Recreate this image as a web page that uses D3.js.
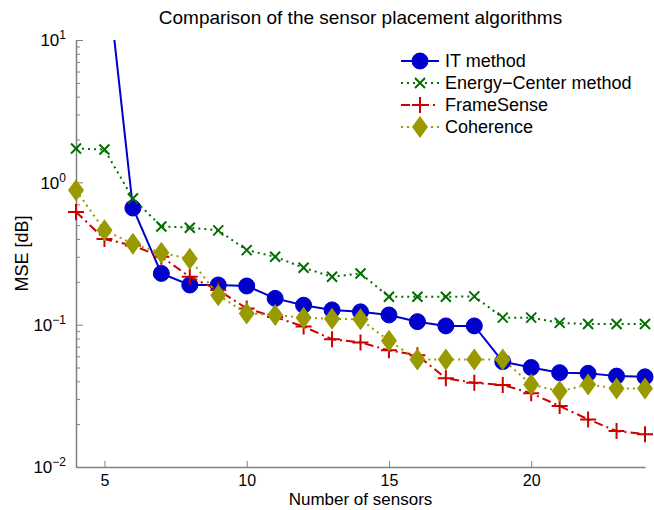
<!DOCTYPE html>
<html>
<head>
<meta charset="utf-8">
<script src="https://cdn.jsdelivr.net/npm/d3@7"></script>
<style>
  body { margin: 0; background: #fff; }
  text { font-family: "Liberation Sans", Arial, sans-serif; }
</style>
</head>
<body>
<div id="chart"></div>
<script>
// sensor counts
const sensors = [4, 5, 6, 7, 8, 9, 10, 11, 12, 13, 14, 15, 16, 17, 18, 19, 20, 21, 22, 23, 24];
// IT method starts at 5 sensors (value above the top of the axis)
const itSensors = sensors.slice(1);
const itMethod = [43, 0.66, 0.229, 0.19, 0.19, 0.187, 0.153, 0.137, 0.127, 0.123, 0.117, 0.105, 0.098, 0.098, 0.055, 0.050, 0.046, 0.0455, 0.0435, 0.043];
const energyCenter = [1.73, 1.70, 0.77, 0.49, 0.48, 0.46, 0.334, 0.30, 0.251, 0.217, 0.229, 0.157, 0.157, 0.157, 0.158, 0.112, 0.112, 0.103, 0.101, 0.101, 0.101];
const frameSense = [0.62, 0.40, 0.36, 0.30, 0.217, 0.175, 0.13, 0.113, 0.097, 0.079, 0.075, 0.066, 0.061, 0.042, 0.039, 0.0377, 0.033, 0.0268, 0.0216, 0.0179, 0.017];
const coherence = [0.88, 0.46, 0.37, 0.32, 0.29, 0.161, 0.12, 0.117, 0.112, 0.11, 0.109, 0.077, 0.057, 0.057, 0.057, 0.057, 0.038, 0.034, 0.038, 0.0356, 0.0356];
const xTicks = [5, 10, 15, 20];
const yTicks = [1e-2, 1e-1, 1e0, 1e1];
const yExponents = ["−2", "−1", "0", "1"];

const W = 654, H = 510;
const margin = { left: 76, top: 40, right: 9, bottom: 43 };
const width = W - margin.left - margin.right;
const height = H - margin.top - margin.bottom;

const svg = d3.select("#chart").append("svg")
  .attr("width", W)
  .attr("height", H);

const x = d3.scaleLinear().domain([4, 24]).range([0, width]);
const y = d3.scaleLog().domain([1e-2, 1e1]).range([height, 0]);

const g = svg.append("g")
  .attr("transform", `translate(${margin.left},${margin.top})`);

g.append("clipPath").attr("id", "plotClip")
  .append("rect").attr("x", -10).attr("y", 0).attr("width", width + 20).attr("height", height);

const axisColor = "#808080";

// minor y ticks
const minor = [];
[1e-2, 1e-1, 1e0].forEach(d => { for (let k = 2; k <= 9; k++) minor.push(d * k); });
g.append("g")
  .call(d3.axisLeft(y).tickValues(minor).tickSize(-4).tickFormat(""))
  .call(a => a.select(".domain").remove())
  .selectAll("line").attr("stroke", axisColor);

// y axis
const yAxis = g.append("g")
  .call(d3.axisLeft(y).tickValues(yTicks).tickSizeInner(-7).tickSizeOuter(0).tickPadding(10).tickFormat(""));
yAxis.select(".domain").attr("stroke", axisColor).attr("stroke-width", 1.5);
yAxis.selectAll("line").attr("stroke", axisColor);
yAxis.selectAll(".tick text").each(function (d, i) {
  const t = d3.select(this)
    .attr("font-size", 17).attr("fill", "#000").attr("dy", "0.35em");
  t.append("tspan").text("10");
  t.append("tspan").attr("dy", "-0.6em").attr("font-size", 12).text(yExponents[i]);
});

// x axis
const xAxis = g.append("g")
  .attr("transform", `translate(0,${height})`)
  .call(d3.axisBottom(x).tickValues(xTicks).tickSizeInner(-6).tickSizeOuter(0).tickPadding(8));
xAxis.select(".domain").attr("stroke", axisColor).attr("stroke-width", 1.5);
xAxis.selectAll("line").attr("stroke", axisColor);
xAxis.selectAll("text").attr("font-size", 16).attr("fill", "#000");

// series
const series = [
  { name: "IT method", xs: itSensors, vals: itMethod, color: "#0000cc", dash: null, marker: "circle" },
  { name: "Energy−Center method", xs: sensors, vals: energyCenter, color: "#006f00", dash: "2,4", marker: "x" },
  { name: "FrameSense", xs: sensors, vals: frameSense, color: "#cc0000", dash: "9,4,2,4", marker: "plus" },
  { name: "Coherence", xs: sensors, vals: coherence, color: "#999900", dash: "2,4", marker: "diamond" }
];

function drawMarker(sel, type, color) {
  if (type === "circle") {
    sel.append("circle").attr("r", 8).attr("fill", color).attr("stroke", color);
  } else if (type === "x") {
    sel.append("path").attr("d", "M-5,-5L5,5M-5,5L5,-5")
      .attr("stroke", color).attr("stroke-width", 2).attr("fill", "none");
  } else if (type === "plus") {
    sel.append("path").attr("d", "M-8,0L8,0M0,-8L0,8")
      .attr("stroke", color).attr("stroke-width", 2).attr("fill", "none");
  } else if (type === "diamond") {
    sel.append("path").attr("d", "M0,-11L8,0L0,11L-8,0Z").attr("fill", color);
  }
}

const line = d3.line().x(d => x(d[0])).y(d => y(d[1]));

series.forEach(s => {
  const pts = s.xs.map((v, i) => [v, s.vals[i]]);
  g.append("path")
    .datum(pts)
    .attr("clip-path", "url(#plotClip)")
    .attr("fill", "none")
    .attr("stroke", s.color)
    .attr("stroke-width", 2)
    .attr("stroke-dasharray", s.dash)
    .attr("d", line);
  g.append("g").selectAll("g")
    .data(pts.filter(d => d[1] <= 10))
    .join("g")
    .attr("transform", d => `translate(${x(d[0])},${y(d[1])})`)
    .each(function () { drawMarker(d3.select(this), s.marker, s.color); });
});

// legend
const legend = svg.append("g").attr("transform", "translate(401,61)");
series.forEach((s, i) => {
  const row = legend.append("g").attr("transform", `translate(0,${i * 22})`);
  row.append("line").attr("x1", 0).attr("x2", 38)
    .attr("stroke", s.color).attr("stroke-width", 2).attr("stroke-dasharray", s.dash);
  drawMarker(row.append("g").attr("transform", "translate(19,0)"), s.marker, s.color);
  row.append("text").attr("x", 44).attr("dy", "0.35em")
    .attr("font-size", 18).text(s.name);
});

// title and axis labels
svg.append("text")
  .attr("x", margin.left + width / 2).attr("y", 24)
  .attr("text-anchor", "middle").attr("font-size", 19)
  .text("Comparison of the sensor placement algorithms");

svg.append("text")
  .attr("x", margin.left + width / 2).attr("y", 505)
  .attr("text-anchor", "middle").attr("font-size", 17)
  .text("Number of sensors");

svg.append("text")
  .attr("transform", `translate(28,${margin.top + height / 2}) rotate(-90)`)
  .attr("text-anchor", "middle").attr("font-size", 18)
  .text("MSE [dB]");
</script>
</body>
</html>
